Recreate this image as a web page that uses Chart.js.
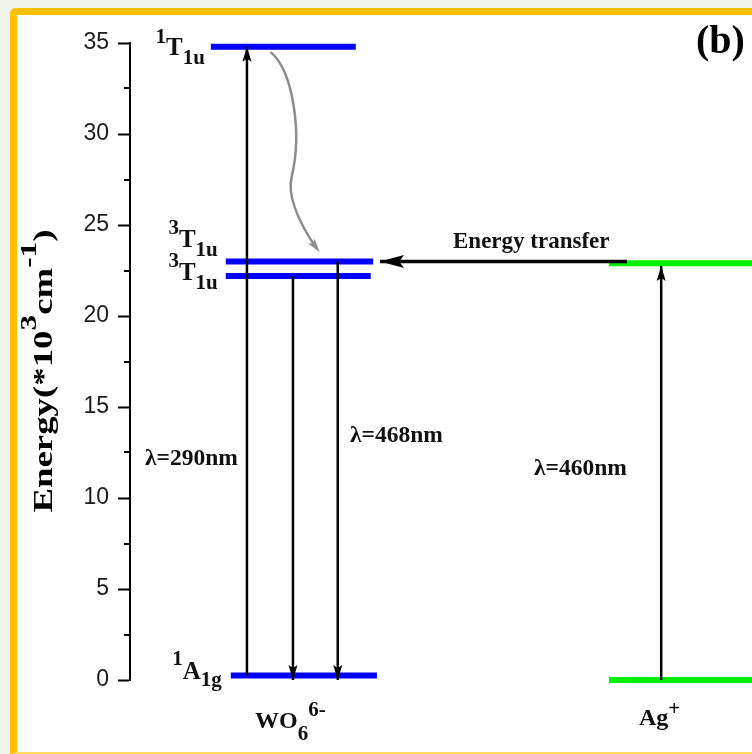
<!DOCTYPE html>
<html>
<head>
<meta charset="utf-8">
<script src="https://cdn.jsdelivr.net/npm/chart.js@4.4.1/dist/chart.umd.min.js"></script>
<style>
  html, body { margin: 0; padding: 0; }
  body { width: 752px; height: 754px; background: #eef3eb; position: relative; overflow: hidden; }
  #frame {
    position: absolute; left: 10px; top: 8px; width: 760px; height: 737px; background: #fff;
    border-top: 7px solid #ffc000; border-left: 7px solid #ffc000; border-bottom: 2px solid #ffd966;
    border-top-left-radius: 6px;
  }
  #energy { position: absolute; left: 0; top: 0; }
</style>
</head>
<body>
<div id="frame"></div>
<canvas id="energy" width="752" height="754"></canvas>
<script>
// energy levels, in 10^3 cm^-1
const levelNames = ['1T1u', '3T1u', '3T1u', '1A1g', 'Ag+ excited', 'Ag+ ground'];
const levelEnergy = [34.8, 23.0, 22.2, 0.25, 22.9, 0];

// transitions (start / end energy)
const transNames = ['λ=290nm', 'emission', 'λ=468nm', 'λ=460nm', 'Energy transfer'];
const transFrom = [0.25, 22.2, 23.0, 0, 23.0];
const transTo = [34.8, 0, 0, 22.75, 23.0];

// non-radiative relaxation 1T1u -> 3T1u
const relaxFrom = 34.5;
const relaxTo = 23.5;

const yTicks = [0, 5, 10, 15, 20, 25, 30, 35];
const yMinorTicks = [2.5, 7.5, 12.5, 17.5, 22.5, 27.5, 32.5];

// horizontal layout, x runs 0..100 across the plot
const levelSpan = [[13.0, 36.3], [15.4, 39.1], [15.4, 38.7], [16.2, 39.7], [77.0, 100], [77.0, 100]];
const levelColor = ['#0000ff', '#0000ff', '#0000ff', '#0000ff', '#00f000', '#00f000'];
const transX = [[18.8, 18.8], [26.2, 26.2], [33.4, 33.4], [85.4, 85.4], [79.9, 40.2]];
const relaxX = [22.6, 30.5];

const serif = '"Liberation Serif", "Times New Roman", serif';

const datasets = [];
transFrom.forEach((v, i) => {
  datasets.push({
    label: transNames[i],
    data: [{ x: transX[i][0], y: v }, { x: transX[i][1], y: transTo[i] }],
    borderColor: '#000',
    borderWidth: i === 4 ? 3.5 : 2.5,
    order: 0
  });
});
levelEnergy.forEach((v, i) => {
  datasets.push({
    label: levelNames[i],
    data: [{ x: levelSpan[i][0], y: v }, { x: levelSpan[i][1], y: v }],
    borderColor: levelColor[i],
    borderWidth: 6,
    order: 1
  });
});
datasets.forEach(d => {
  d.showLine = true; d.pointRadius = 0; d.pointHoverRadius = 0; d.clip = false; d.fill = false;
});

function rich(ctx, x, y, parts, draw) {
  let cx = x;
  parts.forEach(([t, s, dy]) => {
    ctx.font = 'bold ' + s + 'px ' + serif;
    if (draw !== false) ctx.fillText(t, cx, y + dy);
    cx += ctx.measureText(t).width;
  });
  return cx - x;
}

function head(ctx, x0, y0, x1, y1, len, wid, color) {
  const a = Math.atan2(y1 - y0, x1 - x0);
  ctx.save();
  ctx.translate(x1, y1);
  ctx.rotate(a);
  ctx.beginPath();
  ctx.moveTo(0, 0);
  ctx.lineTo(-len, -wid / 2);
  ctx.lineTo(-len * 0.8, 0);
  ctx.lineTo(-len, wid / 2);
  ctx.closePath();
  ctx.fillStyle = color;
  ctx.fill();
  ctx.restore();
}

const annotate = {
  id: 'annotate',
  afterDraw(chart) {
    const { ctx, scales: { x, y } } = chart;
    ctx.save();

    // minor ticks
    ctx.strokeStyle = '#000';
    ctx.lineWidth = 2;
    yMinorTicks.forEach(v => {
      const py = Math.round(y.getPixelForValue(v));
      ctx.beginPath();
      ctx.moveTo(x.left - 6, py);
      ctx.lineTo(x.left, py);
      ctx.stroke();
    });

    // arrow heads
    transFrom.forEach((v, i) => {
      const pts = chart.getDatasetMeta(i).data;
      if (i === 4) head(ctx, pts[0].x, pts[0].y, pts[1].x, pts[1].y, 24, 13, '#000');
      else head(ctx, pts[0].x, pts[0].y, pts[1].x, pts[1].y, 15, 9, '#000');
    });

    // relaxation curve
    const p0x = x.getPixelForValue(relaxX[0]), p0y = y.getPixelForValue(relaxFrom);
    const p3x = x.getPixelForValue(relaxX[1]), p3y = y.getPixelForValue(relaxTo);
    const mx = p0x + 21, my = p0y + 125;
    ctx.strokeStyle = '#8c8c8c';
    ctx.lineWidth = 2.5;
    ctx.beginPath();
    ctx.moveTo(p0x, p0y);
    ctx.bezierCurveTo(p0x + 22, p0y + 18, p0x + 32, p0y + 80, mx, my);
    ctx.bezierCurveTo(mx - 5, my + 22, p3x - 18, p3y - 26, p3x - 4, p3y - 5);
    ctx.stroke();
    head(ctx, p3x - 15, p3y - 20, p3x, p3y, 14, 8, '#8c8c8c');

    ctx.fillStyle = '#111';
    ctx.textBaseline = 'alphabetic';

    // level labels
    const lab = [
      [0, [['1', 21, -12], ['T', 25, 0], ['1u', 21, 9]], 6, 8],
      [1, [['3', 21, -13], ['T', 25, 0], ['1u', 21, 9]], 8, -14],
      [2, [['3', 21, -13], ['T', 25, 0], ['1u', 21, 9]], 8, 4],
      [3, [['1', 21, -14], ['A', 25, 0], ['1g', 21, 7]], 9, 4]
    ];
    lab.forEach(([i, parts, gap, dy]) => {
      const w = rich(ctx, 0, 0, parts, false);
      const right = x.getPixelForValue(levelSpan[i][0]) - gap;
      rich(ctx, right - w, y.getPixelForValue(levelEnergy[i]) + dy, parts);
    });

    // species labels
    rich(ctx, 255, 728, [['WO', 24, 0], ['6', 21, 12], ['6-', 21, -12]]);
    rich(ctx, 639, 725, [['Ag', 24, 0], ['+', 21, -10]]);

    // transition labels
    rich(ctx, 145, 465, [[transNames[0], 23.5, 0]]);
    rich(ctx, 350, 442, [[transNames[2], 23.5, 0]]);
    rich(ctx, 534, 475, [[transNames[3], 23.5, 0]]);
    rich(ctx, 453, 248, [[transNames[4], 23, 0]]);

    // panel letter
    ctx.fillStyle = '#000';
    rich(ctx, 696, 53, [['(b)', 40, 0]]);

    // y axis title
    const tparts = [['Energy(*10', 27, 0], ['3', 23, -16], ['cm', 27, 0], ['-1', 23, -16], [')', 27, 0]];
    const tw = rich(ctx, 0, 0, tparts, false);
    const k = 283 / tw;
    ctx.translate(52, 371);
    ctx.rotate(-Math.PI / 2);
    ctx.scale(k, 1);
    rich(ctx, -tw / 2, 0, tparts);

    ctx.restore();
  }
};

new Chart(document.getElementById('energy'), {
  type: 'scatter',
  data: { datasets },
  options: {
    responsive: false,
    animation: false,
    events: [],
    devicePixelRatio: 1,
    layout: { padding: { top: 43, bottom: 74, left: 0, right: 0 } },
    plugins: { legend: { display: false }, tooltip: { enabled: false } },
    scales: {
      x: { type: 'linear', min: 0, max: 100, display: false },
      y: {
        type: 'linear',
        min: 0,
        max: 35,
        afterBuildTicks: s => { s.ticks = yTicks.map(v => ({ value: v })); },
        afterFit: s => { s.width = 130; },
        ticks: {
          color: '#1b1b1b',
          padding: 9,
          font: { family: '"Liberation Sans", Arial, sans-serif', size: 23 }
        },
        grid: { display: true, drawOnChartArea: false, drawTicks: true, tickLength: 12, tickWidth: 2, tickColor: '#000' },
        border: { display: true, color: '#000', width: 2 }
      }
    }
  },
  plugins: [annotate]
});
</script>
</body>
</html>
